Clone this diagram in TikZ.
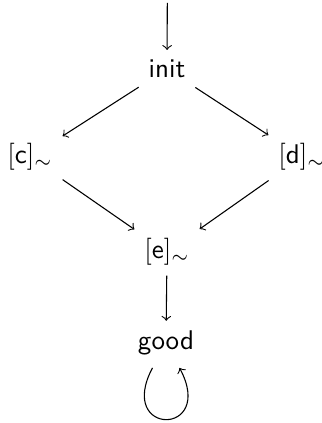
\documentclass[tikz,border=0pt]{standalone}
\begin{document}
\begin{tikzpicture}[x=0.37pt,y=-0.37pt,
  st/.style={font=\sffamily, inner sep=3.5pt},
  arr/.style={->, line width=0.4pt}]
\useasboundingbox (0,0) rectangle (322,423);
\coordinate (start) at (167.3,3);
\node[st] (init) at (167,69) {init};
\node[st] (c) at (30,157) {$[\textsf{c}]_\sim$};
\node[st] (d) at (302,157) {$[\textsf{d}]_\sim$};
\node[st] (e) at (167,252) {$[\textsf{e}]_\sim$};
\node[st] (good) at (166,343) {good};
\draw[arr] (start) -- (init);
\draw[arr] (init) -- (c);
\draw[arr] (init) -- (d);
\draw[arr] (c) -- (e);
\draw[arr] (d) -- (e);
\draw[arr] (e) -- (good);
\draw[arr] ([xshift=-5pt,yshift=-1pt]good.south) to[out=-118,in=-62,looseness=7.4] ([xshift=5pt,yshift=-1pt]good.south);
\end{tikzpicture}
\end{document}
